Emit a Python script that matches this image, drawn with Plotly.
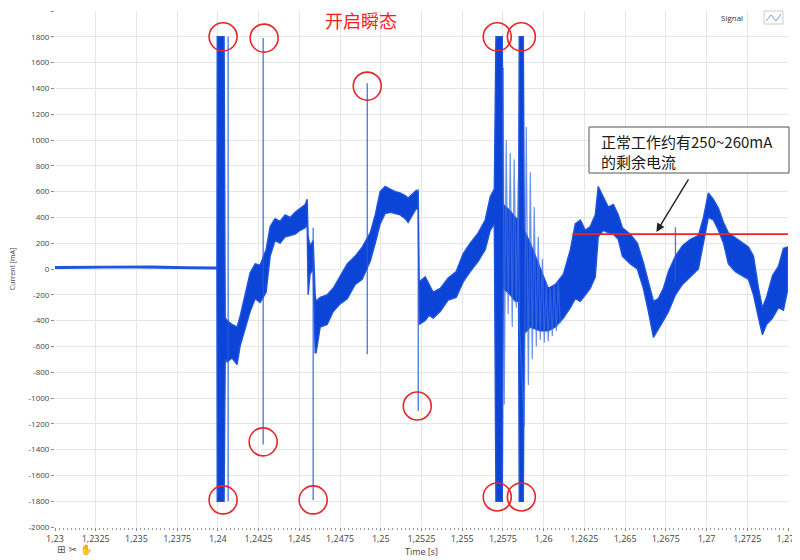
import plotly.graph_objects as go

# ---------------- data ----------------
# envelope of the dense noisy current band: time [s], upper [mA], lower [mA]
env_t = [1.23000, 1.23200, 1.23400, 1.23600, 1.23800, 1.23994, 1.23996, 1.24038,
         1.24045, 1.24057, 1.24087, 1.24118, 1.24136, 1.24167, 1.24198, 1.24229,
         1.24259, 1.24296, 1.24321, 1.24351, 1.24382, 1.24413, 1.24444, 1.24474,
         1.24505, 1.24536, 1.24548, 1.24554, 1.24566, 1.24585, 1.24597, 1.24603,
         1.24628, 1.24671, 1.24708, 1.24751, 1.24794, 1.24843, 1.24886, 1.24935,
         1.24966, 1.24996, 1.25027, 1.25058, 1.25089, 1.25119, 1.25150, 1.25168,
         1.25193, 1.25218, 1.25230, 1.25236, 1.25273, 1.25297, 1.25322, 1.25365,
         1.25414, 1.25463, 1.25506, 1.25549, 1.25598, 1.25641, 1.25672, 1.25697,
         1.25707, 1.25746, 1.25752, 1.25795, 1.25826, 1.25846, 1.25850, 1.25875,
         1.25881, 1.25918, 1.25979, 1.26028, 1.26072, 1.26121, 1.26164, 1.26194,
         1.26225, 1.26256, 1.26286, 1.26317, 1.26335, 1.26366, 1.26397, 1.26428,
         1.26458, 1.26483, 1.26532, 1.26575, 1.26612, 1.26643, 1.26674, 1.26704,
         1.26735, 1.26766, 1.26809, 1.26852, 1.26901, 1.26950, 1.26981, 1.27011,
         1.27042, 1.27073, 1.27104, 1.27134, 1.27177, 1.27220, 1.27257, 1.27288,
         1.27319, 1.27343, 1.27368, 1.27405, 1.27441, 1.27472, 1.27500]
env_hi = [18, 19, 24, 21, 16, 14, 1800, 1800,
          -380, -400, -430, -450, -370, -200, -30, 40,
          30, 150, 330, 390, 370, 420, 400, 440,
          470, 500, 540, 250, 180, 220, -200, -250,
          -220, -200, -150, -60, 40, 100, 170, 280,
          420, 600, 640, 620, 600, 590, 570, 550,
          580, 610, 600, -100, -60, -120, -180, -150,
          -70, -20, 120, 200, 280, 380, 560, 620,
          1800, 1800, 500, 450, 400, 380, 1800, 1800,
          300, 200, 0, -150, -120, -40, 150, 350,
          380, 300, 330, 420, 640, 560, 480, 500,
          420, 320, 270, 200, 50, -100, -250, -230,
          -150, -20, 100, 180, 230, 260, 400, 590,
          540, 470, 360, 280, 240, 200, 170, 100,
          -150, -300, -220, -50, 20, 160, 170]
env_lo = [6, 7, 12, 9, 4, 2, -1800, -1800,
          -700, -720, -690, -740, -600, -470, -330, -230,
          -260, -180, 100, 220, 200, 250, 260, 270,
          300, 320, 350, -200, -40, 0, -650, -650,
          -450, -430, -330, -270, -230, -120, -80, 60,
          200, 350, 430, 440, 430, 420, 390, 360,
          420, 470, 460, -430, -400, -360, -380, -330,
          -240, -220, -100, -20, 60, 150, 300, 350,
          -1800, -1800, -150, -200, -250, -250, -1800, -1800,
          -500, -450, -480, -480, -450, -380, -300, -230,
          -250, -200, -150, -60, 250, 300, 280, 270,
          230, 100, 40, 0, -150, -330, -530, -470,
          -400, -330, -200, -120, -60, 0, 200, 400,
          380, 300, 200, 40, -20, -50, -80, -200,
          -380, -510, -430, -380, -300, -320, -150]

# isolated transient spikes: time, top, bottom
spike_t = [1.24063, 1.24278, 1.24585, 1.24917, 1.25230, 1.26809]
spike_top = [1800, 1790, 320, 1440, 620, 325]
spike_bottom = [-1800, -1360, -1790, -660, -1100, -100]

# ringing after the two big switching bursts
osc_t = [1.25752, 1.25758, 1.25770, 1.25782, 1.25795, 1.25807, 1.25819, 1.25832,
         1.25844, 1.25850, 1.25881, 1.25893, 1.25906, 1.25918, 1.25930, 1.25942,
         1.25955, 1.25967, 1.25979, 1.25992, 1.26004, 1.26016, 1.26028, 1.26041,
         1.26053, 1.26065, 1.26078, 1.26090, 1.26102]
osc_v = [1560, -1050, 1000, -350, 900, -450, 850, -300,
         700, -400, -1220, 1100, -900, 750, -700, 480,
         -600, 250, -550, 80, -570, -100, -560, -150,
         -520, -120, -480, -100, -420]

# red circles marking the transient peaks
mark_t = [1.24032, 1.24284, 1.24917, 1.24278, 1.24032, 1.24585, 1.25224,
          1.25715, 1.25863, 1.25715, 1.25863]
mark_v = [1800, 1790, 1418, -1340, -1790, -1790, -1062,
          1800, 1800, -1767, -1767]

residual_level = 270          # red reference line [mA]
residual_start = 1.26176      # where the red line starts [s]
arrow_t, arrow_v = 1.26692, 287

x_tick_vals = [1.23, 1.2325, 1.235, 1.2375, 1.24, 1.2425, 1.245, 1.2475, 1.25,
               1.2525, 1.255, 1.2575, 1.26, 1.2625, 1.265, 1.2675, 1.27, 1.2725, 1.275]
x_tick_text = ["1,23", "1,2325", "1,235", "1,2375", "1,24", "1,2425", "1,245", "1,2475", "1,25",
               "1,2525", "1,255", "1,2575", "1,26", "1,2625", "1,265", "1,2675", "1,27", "1,2725", "1,275"]
y_tick_vals = [2000, 1800, 1600, 1400, 1200, 1000, 800, 600, 400, 200, 0,
               -200, -400, -600, -800, -1000, -1200, -1400, -1600, -1800, -2000]
y_tick_text = ["2000", "1800", "1600", "1400", "1200", "1000", "800", "600", "400", "200", "0",
               "-200", "-400", "-600", "-800", "-1000", "-1200", "-1400", "-1600", "-1800", "-2000"]

# ---------------- figure ----------------
BLUE = "#0b44d6"
LIGHT = "rgba(60,110,225,0.75)"

fig = go.Figure()

# dense band as polygon
poly_x = env_t + env_t[::-1]
poly_y = env_hi + env_lo[::-1]
fig.add_trace(go.Scatter(x=poly_x, y=poly_y, mode="lines", fill="toself",
                         fillcolor=BLUE, line=dict(color="#1f55dc", width=1.4),
                         hoverinfo="skip", showlegend=False))

# ringing
fig.add_trace(go.Scatter(x=osc_t, y=osc_v, mode="lines",
                         line=dict(color=LIGHT, width=1.2),
                         hoverinfo="skip", showlegend=False))

# spikes
sx, sy = [], []
for t, a, b in zip(spike_t, spike_top, spike_bottom):
    sx += [t, t, None]
    sy += [a, b, None]
fig.add_trace(go.Scatter(x=sx, y=sy, mode="lines",
                         line=dict(color="rgba(40,90,220,0.85)", width=1.3),
                         hoverinfo="skip", showlegend=False))

# red circles
fig.add_trace(go.Scatter(x=mark_t, y=mark_v, mode="markers",
                         marker=dict(symbol="circle-open", size=28,
                                     line=dict(color="#e8262a", width=1.6),
                                     color="#e8262a"),
                         cliponaxis=False, hoverinfo="skip", showlegend=False))

font_ui = "Open Sans, Noto Sans, sans-serif"
cjk = "Noto Sans CJK SC"

# page body has an 8px margin, so the figure is 8px smaller and offset
fig.update_layout(
    width=792, height=552,
    margin=dict(l=47, r=12, t=3, b=33, autoexpand=False),
    paper_bgcolor="white", plot_bgcolor="white",
    font=dict(family=font_ui, size=9, color="#444"),
    xaxis=dict(range=[1.23, 1.275], tickmode="array", tickvals=x_tick_vals,
               ticktext=x_tick_text, showgrid=True, gridcolor="#e6e6e6", gridwidth=1,
               zeroline=False, showline=False, ticks="outside", ticklen=3,
               tickcolor="#888", tickfont=dict(size=9, color="#444"), automargin=False,
               minor=dict(ticks="outside", ticklen=2, dtick=0.00025, tickcolor="#999",
                          showgrid=False),
               title=dict(text="Time [s]", font=dict(size=9, color="#444"), standoff=0)),
    yaxis=dict(range=[-2000, 2000], tickmode="array", tickvals=y_tick_vals,
               ticktext=y_tick_text, showgrid=True, gridcolor="#e6e6e6", gridwidth=1,
               zeroline=False, showline=False, ticks="outside", ticklen=3,
               tickcolor="#888", tickfont=dict(size=8, color="#444"), automargin=False,
               title=dict(text="Current [mA]", font=dict(size=7, color="#444"), standoff=14)),
)

# red residual-current line (extends slightly past the plot edge)
fig.add_shape(type="line", xref="x", yref="y", x0=residual_start, x1=1.2754,
              y0=residual_level, y1=residual_level,
              line=dict(color="#e8262a", width=1.6), layer="above")

# callout box
fig.add_shape(type="rect", xref="paper", yref="paper",
              x0=(589 - 55) / 733, x1=(789 - 55) / 733,
              y0=1 - (173 - 11) / 516, y1=1 - (127 - 11) / 516,
              line=dict(color="#555", width=1), fillcolor="white", layer="above")
fig.add_annotation(xref="paper", yref="paper", x=(599 - 55) / 733, y=1 - (151 - 11) / 516,
                   xanchor="left", yanchor="middle", align="left", showarrow=False,
                   text="正常工作约有250~260mA<br>的剩余电流",
                   font=dict(family=cjk, size=15, color="#1a1a1a"))
# arrow
fig.add_annotation(xref="x", yref="y", x=arrow_t, y=arrow_v, ax=33, ay=-54,
                   showarrow=True, arrowhead=2, arrowsize=1.2, arrowwidth=1.4,
                   arrowcolor="#222", text="")

# title
fig.add_annotation(xref="paper", yref="paper", x=(361 - 55) / 733, y=1 - (20 - 11) / 516,
                   xanchor="center", yanchor="middle", showarrow=False,
                   text="开启瞬态", font=dict(family=cjk, size=18, color="#ff1a1a"))

# legend-like label
fig.add_annotation(xref="paper", yref="paper", x=(745 - 55) / 733, y=1 - (17 - 11) / 516,
                   xanchor="right", yanchor="middle", showarrow=False,
                   text="Signal", font=dict(size=8, color="#333"))
fig.add_shape(type="rect", xref="paper", yref="paper",
              x0=(764 - 55) / 733, x1=(783 - 55) / 733,
              y0=1 - (24 - 11) / 516, y1=1 - (11 - 11) / 516,
              line=dict(color="#ccc", width=1), fillcolor="white", layer="above")
fig.add_shape(type="path", xref="paper", yref="paper",
              path="M {:.4f},{:.4f} L {:.4f},{:.4f} L {:.4f},{:.4f} L {:.4f},{:.4f}".format(
                  (766 - 55) / 733, 1 - (21 - 11) / 516,
                  (771 - 55) / 733, 1 - (15 - 11) / 516,
                  (776 - 55) / 733, 1 - (21 - 11) / 516,
                  (781 - 55) / 733, 1 - (14 - 11) / 516),
              line=dict(color="#6f9be8", width=1), layer="above")

# toolbar icons bottom-left (decorative)
fig.add_annotation(xref="paper", yref="paper", x=0, y=-(549 - 527) / 516,
                   xanchor="left", yanchor="middle", showarrow=False,
                   text="⊞ ✂ ✋", font=dict(family="DejaVu Sans", size=10, color="#555"))

fig.write_html("out.html")
